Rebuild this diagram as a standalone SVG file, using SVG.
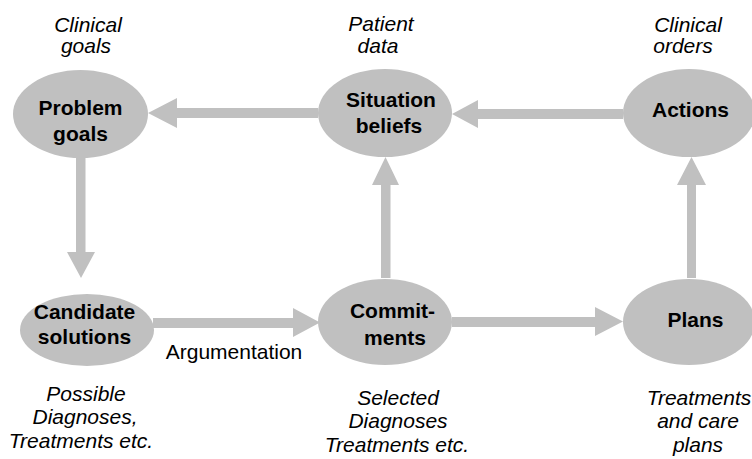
<svg xmlns="http://www.w3.org/2000/svg" width="752" height="459" viewBox="0 0 752 459">
<style>
.node{fill:#c0c0c0;stroke:none}
.arr{fill:#c0c0c0;stroke:none}
.lbl{font-family:"Liberation Sans",Arial,sans-serif;font-size:21px;font-weight:bold;fill:#000;text-anchor:middle}
.note{font-family:"Liberation Sans",Arial,sans-serif;font-size:21px;font-style:italic;fill:#000;text-anchor:middle}
.edge{font-family:"Liberation Sans",Arial,sans-serif;font-size:21px;fill:#000;text-anchor:middle}
</style>
<rect width="752" height="459" fill="#fff"/>
<g id="connectors">
<polygon class="arr" points="318,108 177,108 177,98 148,113 177,128 177,118 318,118"/>
<polygon class="arr" points="623,109 478,109 478,100 452,114 478,128 478,119 623,119"/>
<polygon class="arr" points="76,158 76,252 67,252 81,278 95,252 85.5,252 85.5,158"/>
<polygon class="arr" points="381,278 381,185 372,185 385.5,157 399,185 390.5,185 390.5,278"/>
<polygon class="arr" points="687,278 687,185 677,185 691.5,157 706,185 696,185 696,278"/>
<polygon class="arr" points="153,318 293,318 293,308 320,322.5 293,337 293,328 153,328"/>
<polygon class="arr" points="452,317 595,317 595,307 623,321.5 595,336 595,327 452,327"/>
<text class="edge" x="234" y="359">Argumentation</text>
</g>
<g id="problem-goals">
<ellipse class="node" cx="80.5" cy="114" rx="67.5" ry="44"/>
<text class="lbl" x="80.5" y="115">Problem</text>
<text class="lbl" x="80.5" y="141">goals</text>
<text class="note" x="88" y="32">Clinical</text>
<text class="note" x="86" y="53">goals</text>
</g>
<g id="situation-beliefs">
<ellipse class="node" cx="385" cy="113" rx="67" ry="44"/>
<text class="lbl" x="391" y="107">Situation</text>
<text class="lbl" x="389" y="133">beliefs</text>
<text class="note" x="381" y="31">Patient</text>
<text class="note" x="378" y="53">data</text>
</g>
<g id="actions">
<ellipse class="node" cx="689" cy="113" rx="66" ry="44"/>
<text class="lbl" x="690.5" y="117">Actions</text>
<text class="note" x="688" y="32">Clinical</text>
<text class="note" x="683" y="53">orders</text>
</g>
<g id="candidate-solutions">
<ellipse class="node" cx="87" cy="330" rx="67" ry="36"/>
<text class="lbl" x="84.5" y="319">Candidate</text>
<text class="lbl" x="84.5" y="344">solutions</text>
<text class="note" x="86" y="401">Possible</text>
<text class="note" x="85" y="424">Diagnoses,</text>
<text class="note" x="81" y="448">Treatments etc.</text>
</g>
<g id="commitments">
<ellipse class="node" cx="385" cy="322" rx="67" ry="43"/>
<text class="lbl" x="392.5" y="318">Commit-</text>
<text class="lbl" x="395" y="345">ments</text>
<text class="note" x="398" y="405">Selected</text>
<text class="note" x="398" y="428">Diagnoses</text>
<text class="note" x="397" y="452">Treatments etc.</text>
</g>
<g id="plans">
<ellipse class="node" cx="689" cy="322" rx="66" ry="43"/>
<text class="lbl" x="695.5" y="327">Plans</text>
<text class="note" x="699" y="405">Treatments</text>
<text class="note" x="698" y="428">and care</text>
<text class="note" x="698" y="452">plans</text>
</g>
</svg>
